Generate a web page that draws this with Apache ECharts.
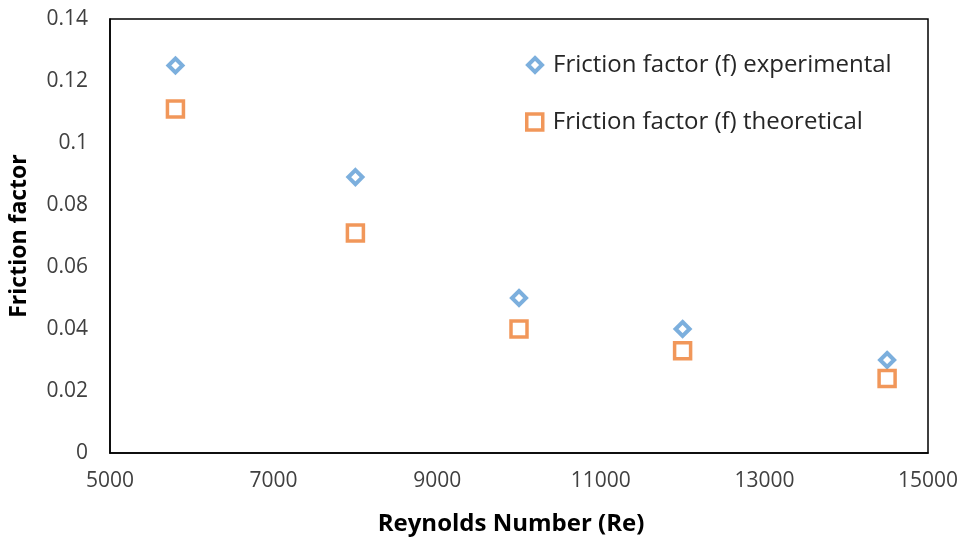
<!DOCTYPE html>
<html>
<head>
<meta charset="utf-8">
<script src="https://cdn.jsdelivr.net/npm/echarts@6/dist/echarts.min.js"></script>
<style>
html,body{margin:0;padding:0;background:#fff;}
#chart{width:967px;height:543px;}
</style>
</head>
<body>
<div id="chart"></div>
<script>
var reynolds = [5800, 8000, 10000, 12000, 14500];
var fExperimental = [0.125, 0.089, 0.050, 0.040, 0.030];
var fTheoretical = [0.111, 0.071, 0.040, 0.033, 0.024];
var xTickLabels = [5000, 7000, 9000, 11000, 13000, 15000];
var seriesNames = ['Friction factor (f) experimental', 'Friction factor (f) theoretical'];
var xTitle = 'Reynolds Number (Re)';
var yTitle = 'Friction factor';

function pairs(xs, ys) { return xs.map(function (x, i) { return [x, ys[i]]; }); }

var blue = '#5B9BD5', orange = '#ED7D31';
var chart = echarts.init(document.getElementById('chart'), null, {renderer: 'canvas'});
var labelFont = {fontFamily: 'Open Sans', fontSize: 21, color: '#404040'};
var legendText = {fontFamily: 'Open Sans', fontSize: 24, lineHeight: 24, color: '#262626'};
chart.setOption({
  animation: false,
  backgroundColor: '#fff',
  grid: {left: 109, right: 39, top: 19, bottom: 90, show: true, borderColor: '#000', borderWidth: 1.5, containLabel: false},
  legend: [
    {data: [seriesNames[0]], left: 526, top: 53, padding: 0, orient: 'vertical', itemWidth: 14, itemHeight: 14,
     itemStyle: {borderWidth: 4},
     textStyle: Object.assign({padding: [0, 0, 0, 6]}, legendText)},
    {data: [seriesNames[1]], left: 525, top: 110, padding: 0, orient: 'vertical', itemWidth: 16, itemHeight: 16,
     itemStyle: {borderWidth: 3.5},
     textStyle: Object.assign({padding: [0, 0, 0, 5]}, legendText)}
  ],
  xAxis: {
    type: 'value', min: 5000, max: 15000, interval: 1000,
    splitLine: {show: false}, axisTick: {show: false},
    axisLine: {show: true, onZero: false, lineStyle: {color: '#000', width: 1.5}},
    axisLabel: Object.assign({margin: 18, customValues: xTickLabels, formatter: function (v) { return String(v); }}, labelFont),
    name: xTitle, nameLocation: 'middle', nameGap: 59,
    nameTextStyle: {fontFamily: 'Open Sans', fontWeight: 'bold', fontSize: 24, color: '#000', padding: [0, 16, 0, 0]}
  },
  yAxis: {
    type: 'value', min: 0, max: 0.14, interval: 0.02,
    splitLine: {show: false}, axisTick: {show: false},
    axisLine: {show: true, lineStyle: {color: '#000', width: 1.5}},
    axisLabel: Object.assign({margin: 22}, labelFont),
    name: yTitle, nameLocation: 'middle', nameGap: 79, nameRotate: 90,
    nameTextStyle: {fontFamily: 'Open Sans', fontWeight: 'bold', fontSize: 23, color: '#000'}
  },
  series: [
    {name: seriesNames[0], type: 'scatter', symbol: 'diamond', symbolSize: 14,
     itemStyle: {color: '#fff', borderColor: blue, borderWidth: 4},
     data: pairs(reynolds, fExperimental)},
    {name: seriesNames[1], type: 'scatter', symbol: 'rect', symbolSize: 16,
     itemStyle: {color: '#fff', borderColor: orange, borderWidth: 3.5},
     data: pairs(reynolds, fTheoretical)}
  ]
});
</script>
</body>
</html>
